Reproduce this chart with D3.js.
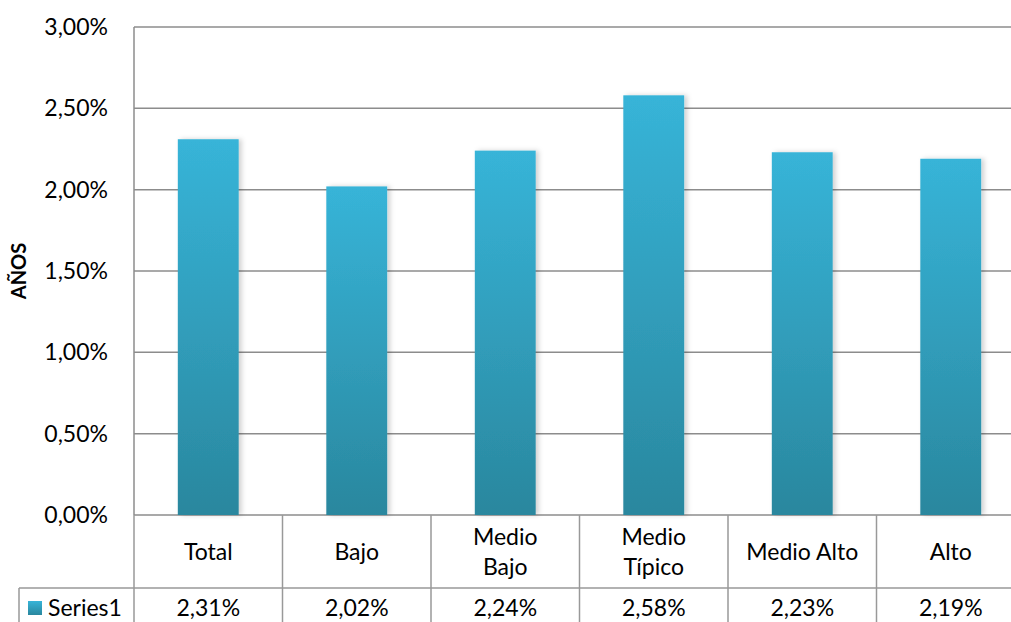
<!DOCTYPE html>
<html>
<head>
<meta charset="utf-8">
<script src="https://cdn.jsdelivr.net/npm/d3@7"></script>
<style>
  html, body { margin: 0; padding: 0; background: #fff; overflow: hidden; }
  svg { display: block; }
  svg text { font-family: Lato, "Open Sans", sans-serif; fill: #000; }
</style>
</head>
<body>
<svg id="chart" width="1011" height="622"></svg>
<script>
// Category names (line breaks as shown in the data table header)
const categories = ["Total", "Bajo", "Medio Bajo", "Medio Típico", "Medio Alto", "Alto"];
const categoryLines = [["Total"], ["Bajo"], ["Medio", "Bajo"], ["Medio", "Típico"], ["Medio Alto"], ["Alto"]];
// Series1 values, in percent
const series1 = [2.31, 2.02, 2.24, 2.58, 2.23, 2.19];
const seriesName = "Series1";
const yTicks = [0, 0.5, 1.0, 1.5, 2.0, 2.5, 3.0];

const fmt = v => d3.format(".2f")(v).replace(".", ",") + "%";

const svg = d3.select("#chart");
const plotLeft = 134, plotRight = 1025, plotTop = 27, plotBottom = 515;
const tableRow1 = 588, tableRow2 = 640;
const fontSize = 23;

const x = d3.scaleBand().domain(categories).range([plotLeft, plotRight]).paddingInner(0.59).paddingOuter(0.295);
const xCell = d3.scaleBand().domain(categories).range([plotLeft, plotRight]);
const y = d3.scaleLinear().domain([0, 3]).range([plotBottom, plotTop]);

const defs = svg.append("defs");
const grad = defs.append("linearGradient").attr("id", "barGrad")
  .attr("x1", 0).attr("y1", 0).attr("x2", 0).attr("y2", 1);
grad.append("stop").attr("offset", "0%").attr("stop-color", "#37b4d8");
grad.append("stop").attr("offset", "100%").attr("stop-color", "#2a879e");
const lg = defs.append("linearGradient").attr("id", "legGrad")
  .attr("x1", 0).attr("y1", 0).attr("x2", 0).attr("y2", 1);
lg.append("stop").attr("offset", "0%").attr("stop-color", "#37b4d8");
lg.append("stop").attr("offset", "100%").attr("stop-color", "#2a879e");
const shadow = defs.append("filter").attr("id", "shadow")
  .attr("x", "-20%").attr("y", "-10%").attr("width", "150%").attr("height", "120%");
shadow.append("feDropShadow").attr("dx", 3).attr("dy", 0).attr("stdDeviation", 2.5)
  .attr("flood-color", "#000").attr("flood-opacity", 0.18);

// Gridlines
svg.append("g").selectAll("line").data(yTicks).join("line")
  .attr("x1", plotLeft).attr("x2", plotRight)
  .attr("y1", d => y(d)).attr("y2", d => y(d))
  .attr("stroke", "#8c8c8c").attr("stroke-width", 1.5);

// Y axis line
svg.append("line").attr("x1", plotLeft).attr("x2", plotLeft).attr("y1", plotTop).attr("y2", plotBottom)
  .attr("stroke", "#8c8c8c").attr("stroke-width", 1.5);

// Y tick labels
svg.append("g").selectAll("text").data(yTicks).join("text")
  .attr("x", 108).attr("y", d => y(d)).attr("dy", "0.35em")
  .attr("text-anchor", "end").attr("font-size", fontSize)
  .text(fmt);

// Axis title
svg.append("text")
  .attr("transform", `translate(26,${(plotTop + plotBottom) / 2}) rotate(-90)`)
  .attr("text-anchor", "middle").attr("font-size", 20).attr("font-weight", "bold")
  .text("AÑOS");

// Bars
svg.append("g").selectAll("rect").data(series1).join("rect")
  .attr("x", (d, i) => x(categories[i]))
  .attr("width", x.bandwidth())
  .attr("y", d => y(d))
  .attr("height", d => y(0) - y(d))
  .attr("fill", "url(#barGrad)")
  .attr("filter", "url(#shadow)");

// Data table
const tbl = svg.append("g");
const lineStyle = s => s.attr("stroke", "#999").attr("stroke-width", 1.5);
// vertical cell borders
tbl.selectAll("line.v").data(categories).join("line").attr("class", "v")
  .attr("x1", d => xCell(d)).attr("x2", d => xCell(d))
  .attr("y1", plotBottom).attr("y2", tableRow2)
  .call(lineStyle);
tbl.append("line").attr("x1", 19).attr("x2", plotRight).attr("y1", tableRow1).attr("y2", tableRow1).call(lineStyle);
tbl.append("line").attr("x1", 19).attr("x2", 19).attr("y1", tableRow1).attr("y2", tableRow2).call(lineStyle);

// Header labels
categories.forEach((c, i) => {
  const lines = categoryLines[i];
  const cx = xCell(c) + xCell.bandwidth() / 2;
  const cy = (plotBottom + tableRow1) / 2;
  const lh = 30;
  const t = tbl.append("text").attr("text-anchor", "middle").attr("font-size", fontSize);
  lines.forEach((l, j) => {
    t.append("tspan").attr("x", cx)
      .attr("y", cy + (j - (lines.length - 1) / 2) * lh)
      .attr("dy", "0.35em").text(l);
  });
});

// Value row
const rowY = 608;
tbl.selectAll("text.val").data(series1).join("text").attr("class", "val")
  .attr("x", (d, i) => xCell(categories[i]) + xCell.bandwidth() / 2)
  .attr("y", rowY).attr("dy", "0.35em")
  .attr("text-anchor", "middle").attr("font-size", fontSize)
  .text(fmt);

// Legend key in the row header
tbl.append("rect").attr("x", 28).attr("y", 601).attr("width", 14).attr("height", 14)
  .attr("fill", "url(#legGrad)");
tbl.append("text").attr("x", 48).attr("y", rowY).attr("dy", "0.35em")
  .attr("font-size", fontSize).text(seriesName);
</script>
</body>
</html>
